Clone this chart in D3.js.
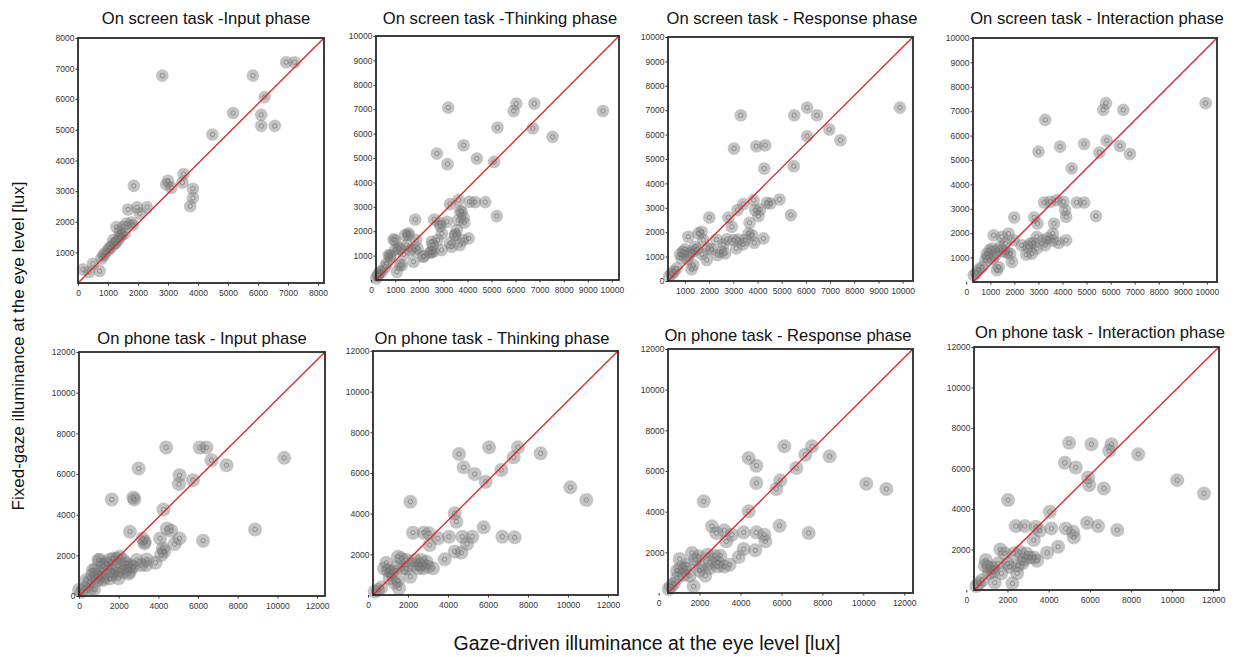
<!DOCTYPE html>
<meta charset="utf-8">
<title>Fixed-gaze vs gaze-driven illuminance</title>
<style>
body { margin: 0; background: #fff; }
text { font-family: "Liberation Sans", Arial, Helvetica, sans-serif; }
.tick text { fill: #333; font-size: 8.5px; }
.tick line { stroke: #333; }
</style>
<script src="https://d3js.org/d3.v7.min.js"></script>
<body>
<script>
// panel titles
var titles = [
  "On screen task -Input phase", "On screen task -Thinking phase",
  "On screen task - Response phase", "On screen task - Interaction phase",
  "On phone task - Input phase", "On phone task - Thinking phase",
  "On phone task - Response phase", "On phone task - Interaction phase"
];

// axis ranges (lux)
var xDomains = [[0, 8200], [200, 10300], [300, 10430], [280, 10420],
                [0, 12400], [250, 12500], [456, 12430], [373, 12280]];
var yDomains = [[0, 8000], [0, 10000], [0, 10000], [0, 10000],
                [0, 12000], [0, 12000], [0, 12000], [0, 12000]];

// tick labels
var ticks8k = [1000, 2000, 3000, 4000, 5000, 6000, 7000, 8000];
var ticks10k = [1000, 2000, 3000, 4000, 5000, 6000, 7000, 8000, 9000, 10000];
var ticks12k = [2000, 4000, 6000, 8000, 10000, 12000];
var xTicks = [[0].concat(ticks8k), [0].concat(ticks10k), ticks10k, [0].concat(ticks10k),
              [0].concat(ticks12k), [0].concat(ticks12k), [0].concat(ticks12k), [0].concat(ticks12k)];
var yTicks = [ticks8k, ticks10k, [0].concat(ticks10k), ticks10k,
              [0].concat(ticks12k), ticks12k, ticks12k, ticks12k];

// [gaze-driven, fixed-gaze] pairs
var screenInput = [[170,440],[370,360],[500,630],[720,390],[780,800],[890,960],[1000,1070],[850,900],
  [1110,1180],[1220,1290],[1330,1400],[1440,1560],[1560,1620],[1170,1400],[1500,1830],[1280,1830],
  [1390,1670],[1610,1940],[1670,2400],[1780,1970],[1830,1890],[1860,3170],[1970,2470],[2060,2270],
  [2300,2470],[1050,1150],[1250,1300],[1400,1500],[2810,6770],[2940,3220],[3000,3340],[3110,3110],
  [3480,3280],[3520,3560],[3830,3080],[3830,2780],[3740,2510],[4480,4850],[5170,5550],[5830,6770],
  [6110,5490],[6110,5130],[6220,6070],[6560,5130],[6940,7210],[7220,7210]];
var screenThinking = [[266,164],[308,245],[446,341],[210,70],[585,545],[723,1023],[930,1664],
  [1070,341],[1180,1296],[1277,614],[1415,1841],[1554,1910],[1623,1228],[1762,750],[1830,2482],
  [1870,1637],[1930,1296],[2180,982],[2450,1118],[2560,1432],[2620,2482],[2730,5183],[2760,1637],
  [2870,2210],[2940,1910],[3150,2387],[3170,4747],[3200,7066],[3280,3110],[3280,1528],[3350,1364],
  [3490,1841],[3560,2046],[3630,3274],[3700,2837],[3810,1637],[3840,5524],[3870,2346],[3840,2564],
  [4050,1705],[4090,3205],[4320,3192],[4390,4979],[4740,3192],[5110,4842],[5220,2619],[5250,6247],
  [5920,6929],[6030,7229],[6720,6220],[6780,7229],[7540,5865],[9630,6929],[800,1000],[1000,1250],
  [1350,1050],[2500,1150],[990,1639],[1543,1844],[1476,1434],[782,955],[645,683],[1127,1298],
  [366,342],[1197,615],[1821,1230],[2166,955],[2582,1161],[2515,1570],[2930,1230],[2860,2324],
  [3484,1844],[3691,1434],[3621,2459],[3760,2800]];
var screenResponse = [[350,205],[447,286],[544,382],[654,518],[862,927],[930,1200],[1000,1296],
  [1138,1814],[1277,477],[1346,655],[1415,1405],[1553,1950],[1692,2019],[1760,1678],[1900,859],
  [1968,1337],[2010,2605],[2340,1064],[2660,1132],[2730,1705],[2800,2605],[2940,2223],[3010,1678],
  [3120,1337],[3030,5430],[3170,2905],[3310,6793],[3420,3150],[3490,1678],[3630,1950],[3670,2387],
  [3770,1882],[3840,3314],[3870,1569],[3900,2905],[3950,5524],[4040,2660],[4110,2932],[4250,1746],
  [4280,4610],[4320,5565],[4390,3205],[4530,3178],[4910,3342],[5380,2700],[5500,4706],[5520,6793],
  [6050,5933],[6050,7107],[6460,6793],[6970,6206],[7430,5770],[9890,7107],[1200,1100],[1500,1300],
  [2600,1500],[800,1100],[1100,900],[1300,1200],[1700,1100],[2100,1300],[2300,1700],[2500,1200],
  [3200,1700],[3400,1500]];
var screenInteraction = [[310,274],[420,370],[517,507],[655,616],[793,890],[890,1027],[972,1301],
  [1070,1370],[1138,1918],[1207,1096],[1276,480],[1345,616],[1414,1438],[1483,1850],[1621,1575],
  [1760,1987],[1828,1164],[1897,822],[1967,1712],[1994,2644],[2490,1123],[2657,1575],[2726,1164],
  [2823,2644],[2933,1850],[2933,1370],[2960,2398],[3003,5343],[3210,1712],[3280,1507],[3237,3261],
  [3280,6645],[3486,3288],[3596,1987],[3650,2398],[3762,3357],[3831,1603],[3900,5549],[4038,3288],
  [4107,2946],[4148,2672],[4148,1712],[4383,4658],[4590,3261],[4900,5658],[4900,3261],[5390,2700],
  [5530,5302],[5695,7056],[5806,7330],[5833,5795],[6385,5576],[6524,7056],[6800,5247],[9950,7330],
  [1550,1250],[2550,1450],[850,1150],[1100,950],[1300,1300],[1700,1200],[2300,1500],[2800,1600],
  [3400,1800],[3600,1700]];
var phoneInput = [[0,295],[135,213],[304,376],[507,704],[676,1031],[760,327],[811,1277],[930,786],
  [980,1768],[1098,1113],[1183,868],[1352,1359],[1521,1768],[1606,1031],[1656,4747],[1775,1440],
  [1893,1850],[1994,868],[2062,1277],[2231,1768],[2366,1440],[2569,3159],[2620,1473],[2738,4845],
  [2789,4747],[2907,1768],[3008,6270],[3126,1522],[3211,2832],[3295,2586],[3380,1522],[3414,1800],
  [3853,1637],[4090,2832],[4140,2013],[4225,2341],[4259,4256],[4394,7301],[4428,3323],[4647,3209],
  [4816,2554],[5036,5500],[5070,5942],[5070,2832],[5746,5697],[6084,7301],[6253,2717],[6422,7301],
  [6676,6679],[7436,6433],[8873,3274],[10343,6794],[1200,1500],[1700,1200],[2500,1100],
  [2055,1926],[1722,1846],[1384,1601],[1045,1765],[707,1275],[877,946],[1212,784],[1550,866],
  [1889,1111],[2222,1192],[2561,1192],[2727,1437],[2394,1601],[374,784],[626,377],[3318,2662],
  [4300,2200]];
var phoneThinking = [[333,164],[500,246],[667,377],[917,1590],[1000,1196],[1083,820],[1167,1147],
  [1333,606],[1417,1360],[1500,1885],[1550,328],[1667,1803],[1750,1311],[1917,1721],[2117,901],
  [2117,4589],[2250,3065],[2333,1721],[2500,1311],[2667,1721],[2750,1311],[2783,3065],[2917,1639],
  [3050,3032],[3083,2459],[3250,1311],[3500,2786],[3833,1754],[4050,2868],[4333,2131],[4333,4016],
  [4417,3606],[4550,6933],[4667,2082],[4717,2868],[4783,6277],[4950,2508],[5217,2868],[5333,5950],
  [5783,3327],[5883,5573],[6050,7261],[6667,6146],[6717,2868],[7283,6769],[7333,2836],[7500,7261],
  [8633,6966],[10117,5294],[10917,4671],[800,1300],[1200,1100],[1900,1300],[2300,1500],[2600,1500],
  [3000,1400],[1500,700]];
var phoneResponse = [[489,197],[603,328],[733,459],[896,738],[1026,1672],[1059,1229],[1222,901],
  [1385,1393],[1515,852],[1629,1967],[1710,328],[1792,1639],[1955,1803],[2036,1311],[2199,4507],
  [2281,852],[2395,1885],[2476,1229],[2606,3278],[2720,1836],[2818,2950],[2883,1311],[3014,1836],
  [3209,3081],[3307,2541],[3470,1393],[3584,2868],[3910,1770],[4154,2983],[4154,2164],[4398,6638],
  [4398,4016],[4724,2098],[4773,5409],[4773,2983],[4773,6261],[5164,2868],[5213,2541],[5750,5114],
  [5913,3311],[5946,5540],[6141,7212],[6728,6146],[7168,6802],[7331,2950],[7494,7212],[8357,6720],
  [10149,5376],[11126,5114],[900,1100],[1300,1200],[2000,1100],[2500,1500],[2900,1500],[3200,1300]];
var phoneInteraction = [[487,197],[616,329],[779,493],[941,1480],[1054,1151],[1103,822],[1298,904],
  [1379,362],[1541,1315],[1654,2006],[1703,822],[1865,1808],[2028,4439],[2109,1151],[2239,329],
  [2303,1808],[2400,3156],[2466,822],[2595,1891],[2725,1315],[2839,3156],[2920,1808],[3082,1611],
  [3276,2466],[3374,3124],[3439,1447],[3568,2926],[3925,1841],[4055,3863],[4136,3041],[4461,2137],
  [4785,6280],[4834,3041],[4996,7266],[5190,2877],[5223,2597],[5320,6050],[5872,3321],[5920,5557],
  [5970,5179],[6083,7200],[6407,3156],[6683,5014],[6942,6872],[7056,7200],[7332,2959],[8353,6707],
  [10251,5425],[11549,4768],[900,1200],[1300,1100],[2000,1300],[2500,1200],[2800,1500],[3300,1600]];

var series = [screenInput, screenThinking, screenResponse, screenInteraction,
              phoneInput, phoneThinking, phoneResponse, phoneInteraction];

// panel boxes in pixels: left, top, right, bottom
var boxes = [[78, 38, 324, 283], [376, 36, 619, 280], [668, 37, 913, 281], [973, 38, 1217, 282],
             [79, 352, 325, 596], [373, 351, 618, 595], [668, 349, 913, 593], [974, 347, 1219, 590]];
var titlePos = [[206, 24], [500, 24], [792, 24], [1097, 24],
                [202, 344], [492, 344], [788, 341], [1100, 338]];

var width = 1236, height = 657;
var svg = d3.select("body").append("svg")
    .attr("width", width)
    .attr("height", height);

series.forEach(function(pts, i) {
  var b = boxes[i];
  var x = d3.scaleLinear().domain(xDomains[i]).range([b[0], b[2]]);
  var y = d3.scaleLinear().domain(yDomains[i]).range([b[3], b[1]]);
  var r = i < 4 ? 6.3 : 7;
  var g = svg.append("g");

  g.append("text")
      .attr("x", titlePos[i][0])
      .attr("y", titlePos[i][1])
      .attr("text-anchor", "middle")
      .attr("font-size", 16.6)
      .attr("fill", "#111")
      .text(titles[i]);

  // points: translucent disc + faint inner ring
  var dots = g.append("g").selectAll("g")
      .data(pts)
    .enter().append("g")
      .attr("transform", function(d) { return "translate(" + x(d[0]) + "," + y(d[1]) + ")"; });
  dots.append("circle")
      .attr("r", r)
      .attr("fill", "#777")
      .attr("fill-opacity", 0.44);
  dots.append("circle")
      .attr("r", 2.2)
      .attr("fill", "none")
      .attr("stroke", "#666")
      .attr("stroke-opacity", 0.55)
      .attr("stroke-width", 1);

  // y = x reference, corner to corner
  g.append("path")
      .datum([[xDomains[i][0], yDomains[i][0]], [xDomains[i][1], yDomains[i][1]]])
      .attr("fill", "none")
      .attr("stroke", "#e02a2a")
      .attr("stroke-width", 1.4)
      .attr("d", d3.line().x(function(d) { return x(d[0]); }).y(function(d) { return y(d[1]); }));

  g.append("rect")
      .attr("x", b[0]).attr("y", b[1])
      .attr("width", b[2] - b[0]).attr("height", b[3] - b[1])
      .attr("fill", "none")
      .attr("stroke", "#2a2a2a")
      .attr("stroke-width", 1.8);

  var ya = g.append("g")
      .attr("transform", "translate(" + b[0] + ",0)")
      .call(d3.axisLeft(y).tickValues(yTicks[i]).tickSize(2.5).tickPadding(1).tickFormat(d3.format("d")));
  ya.select(".domain").remove();

  var xa = g.append("g")
      .attr("transform", "translate(0," + b[3] + ")")
      .call(d3.axisBottom(x).tickValues(xTicks[i]).tickSize(2.5).tickPadding(4.5).tickFormat(d3.format("d")));
  xa.select(".domain").remove();
});

svg.append("text")
    .attr("transform", "translate(24,346) rotate(-90)")
    .attr("text-anchor", "middle")
    .attr("font-size", 17)
    .attr("fill", "#111")
    .text("Fixed-gaze  illuminance at the eye level [lux]");

svg.append("text")
    .attr("x", 647)
    .attr("y", 650)
    .attr("text-anchor", "middle")
    .attr("font-size", 19.5)
    .attr("fill", "#111")
    .text("Gaze-driven illuminance at the eye level [lux]");
</script>
